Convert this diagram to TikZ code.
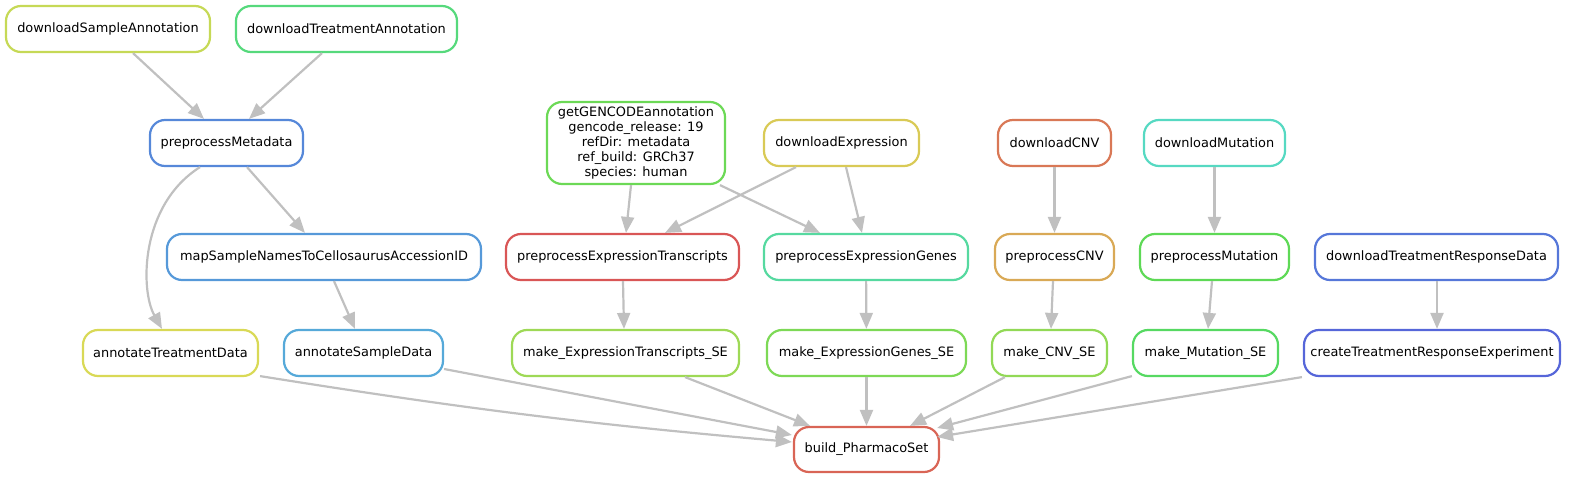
\documentclass[tikz,border=0pt]{standalone}
\usepackage{fontspec}
\setmainfont{DejaVu Sans}
\usetikzlibrary{arrows.meta,calc}
\definecolor{cdsa}{HTML}{C6D956}
\definecolor{cdta}{HTML}{56D97C}
\definecolor{cpm}{HTML}{5688D9}
\definecolor{cgga}{HTML}{6CD956}
\definecolor{cde}{HTML}{D9CA56}
\definecolor{cdcnv}{HTML}{D97856}
\definecolor{cdmut}{HTML}{56D9C2}
\definecolor{cmaps}{HTML}{5699D9}
\definecolor{cpet}{HTML}{D95656}
\definecolor{cpeg}{HTML}{56D9A0}
\definecolor{cpcnv}{HTML}{D9A956}
\definecolor{cpmut}{HTML}{5ED956}
\definecolor{cdtrd}{HTML}{5677D9}
\definecolor{catd}{HTML}{D9D956}
\definecolor{casd}{HTML}{56A9D9}
\definecolor{cmet}{HTML}{9ED956}
\definecolor{cmeg}{HTML}{7DD956}
\definecolor{cmcnv}{HTML}{92D956}
\definecolor{cmmut}{HTML}{56D962}
\definecolor{cctre}{HTML}{5666D9}
\definecolor{cbps}{HTML}{D96556}
\definecolor{edgegrey}{HTML}{C0C0C0}

\begin{document}
\begin{tikzpicture}[x=1pt,y=-1pt,
        rule/.style={draw=#1, line width=2.2pt, rounded corners=15pt, minimum height=46pt, inner sep=0pt, align=center, font=\fontsize{12.9}{14.8}\selectfont},
        edge/.style={draw=edgegrey, line width=2.2pt, -{Triangle[length=16pt,width=13pt]}}]
            \useasboundingbox (0,0) rectangle (1575,479);

            \node (dSA) at (108,29) [rule=cdsa, minimum width=204pt] {downloadSampleAnnotation};
            \node (dTA) at (346.5,29) [rule=cdta, minimum width=221pt] {downloadTreatmentAnnotation};
            \node (pM) at (226.5,143) [rule=cpm, minimum width=153pt] {preprocessMetadata};
            \node (gGA) at (636,143) [rule=cgga, minimum width=178pt, minimum height=82pt] {getGENCODEannotation\\gencode\_release: 19\\refDir: metadata\\ref\_build: GRCh37\\species: human};
            \node (dE) at (841.5,143) [rule=cde, minimum width=155pt] {downloadExpression};
            \node (dCNV) at (1054.5,143) [rule=cdcnv, minimum width=113pt] {downloadCNV};
            \node (dMut) at (1214.5,143) [rule=cdmut, minimum width=141pt] {downloadMutation};

            \node (mapS) at (324,257) [rule=cmaps, minimum width=314pt] {mapSampleNamesToCellosaurusAccessionID};
            \node (pET) at (622.5,257) [rule=cpet, minimum width=233pt] {preprocessExpressionTranscripts};
            \node (pEG) at (866,257) [rule=cpeg, minimum width=204pt] {preprocessExpressionGenes};
            \node (pCNV) at (1054.5,257) [rule=cpcnv, minimum width=119pt] {preprocessCNV};
            \node (pMut) at (1214.5,257) [rule=cpmut, minimum width=149pt] {preprocessMutation};
            \node (dTRD) at (1436.5,257) [rule=cdtrd, minimum width=243pt] {downloadTreatmentResponseData};

            \node (aTD) at (170.5,353) [rule=catd, minimum width=175pt] {annotateTreatmentData};
            \node (aSD) at (363.5,353) [rule=casd, minimum width=159pt] {annotateSampleData};
            \node (mET) at (625.5,353) [rule=cmet, minimum width=227pt] {make\_ExpressionTranscripts\_SE};
            \node (mEG) at (866.5,353) [rule=cmeg, minimum width=199pt] {make\_ExpressionGenes\_SE};
            \node (mCNV) at (1049.5,353) [rule=cmcnv, minimum width=115pt] {make\_CNV\_SE};
            \node (mMut) at (1205.5,353) [rule=cmmut, minimum width=145pt] {make\_Mutation\_SE};
            \node (cTRE) at (1432,353) [rule=cctre, minimum width=256pt] {createTreatmentResponseExperiment};

            \node (bPS) at (866.5,449.5) [rule=cbps, minimum width=145pt, minimum height=45pt] {build\_PharmacoSet};

            \draw[edge] ($(dSA.south)+(25,0)$) -- ($(pM.north)+(-22.5,0)$);
            \draw[edge] ($(dTA.south)+(-24.5,0)$) -- ($(pM.north)+(22.5,0)$);
            \draw[edge] ($(pM.south)+(20.5,0)$) -- ($(mapS.north)+(-19,0)$);
            \draw[edge] ($(pM.south)+(-26.5,0)$) .. controls (140,205) and (140,290) .. ($(aTD.north)+(-8.5,0)$);
            \draw[edge] ($(mapS.south)+(10,0)$) -- ($(aSD.north)+(-8.5,0)$);
            \draw[edge] ($(gGA.south)+(-5,0)$) -- ($(pET.north)+(3.5,0)$);
            \draw[edge] ($(gGA.south)+(84,0)$) -- ($(pEG.north)+(-46,0)$);
            \draw[edge] ($(dE.south)+(-45.5,0)$) -- ($(pET.north)+(42.5,0)$);
            \draw[edge] ($(dE.south)+(4.5,0)$) -- ($(pEG.north)+(-4,0)$);
            \draw[edge] (dCNV) -- (pCNV);
            \draw[edge] (dMut) -- (pMut);
            \draw[edge] ($(pET.south)+(0.5,0)$) -- ($(mET.north)+(-1.5,0)$);
            \draw[edge] (pEG) -- (mEG);
            \draw[edge] ($(pCNV.south)+(-1.5,0)$) -- ($(mCNV.north)+(1.5,0)$);
            \draw[edge] ($(pMut.south)+(-2.5,0)$) -- ($(mMut.north)+(2.5,0)$);
            \draw[edge] ($(dTRD.south)+(0.5,0)$) -- ($(cTRE.north)+(5,0)$);
            \draw[edge] ($(aTD.south east)+(1,-1)$) to[bend right=2] ($(bPS.west)+(-1,-7.5)$);
            \draw[edge] ($(aSD.east)+(0,16)$) -- ($(bPS.west)+(-1,-14.5)$);
            \draw[edge] ($(mET.south)+(59.5,0)$) -- ($(bPS.north)+(-56.5,0)$);
            \draw[edge] (mEG) -- (bPS);
            \draw[edge] ($(mCNV.south)+(-44.5,0)$) -- ($(bPS.north)+(43.5,0)$);
            \draw[edge] ($(mMut.south west)+(0,-1)$) -- ($(bPS.east)+(-3,-21.5)$);
            \draw[edge] ($(cTRE.south west)+(-1,0)$) -- ($(bPS.east)+(-3,-12.5)$);

        \end{tikzpicture}
\end{document}
